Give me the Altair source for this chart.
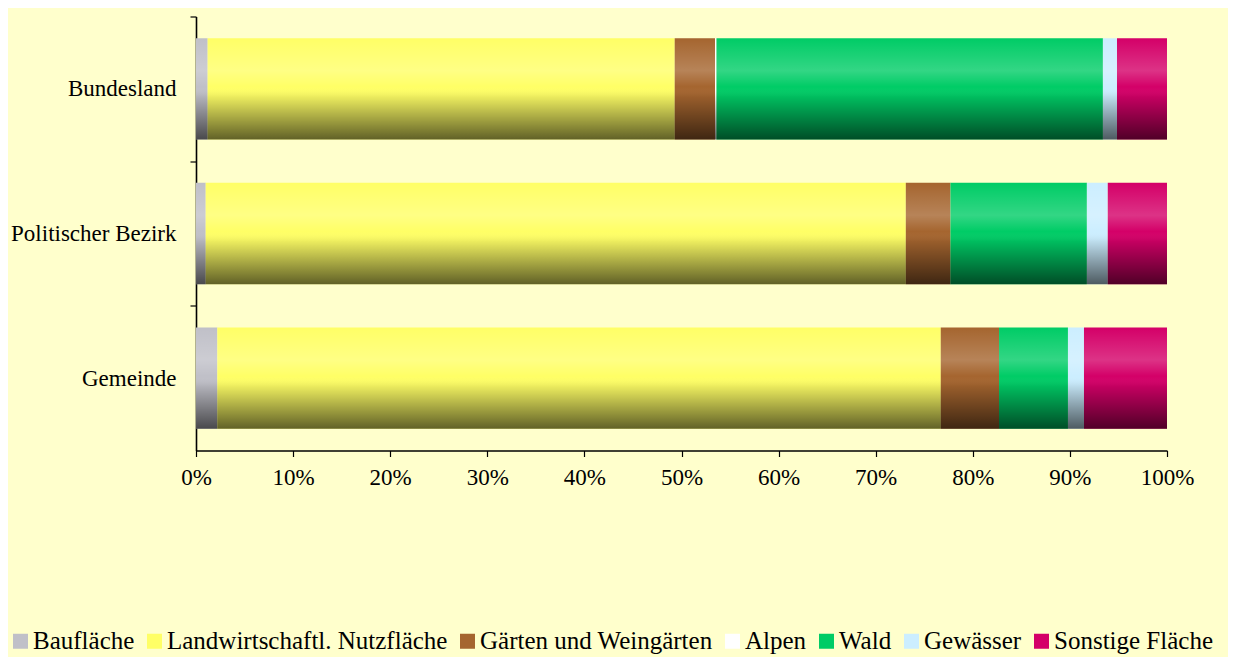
import altair as alt
import pandas as pd

regions = ["Bundesland", "Politischer Bezirk", "Gemeinde"]
categories = ["Baufläche", "Landwirtschaftl. Nutzfläche", "Gärten und Weingärten",
              "Alpen", "Wald", "Gewässer", "Sonstige Fläche"]
colors = ["#C0C0C8", "#FFFF66", "#A5652F", "#FFFFFF", "#00CC66", "#CCEEFF", "#D40068"]

bundesland = [1.2, 48.1, 4.15, 0.15, 39.8, 1.45, 5.15]
bezirk = [1.0, 72.1, 4.6, 0.0, 14.05, 2.15, 6.1]
gemeinde = [2.2, 74.5, 6.0, 0.0, 7.1, 1.65, 8.55]

x_ticks = [0, 0.1, 0.2, 0.3, 0.4, 0.5, 0.6, 0.7, 0.8, 0.9, 1.0]

rows = []
for reg, vals in zip(regions, [bundesland, bezirk, gemeinde]):
    for i, (cat, v) in enumerate(zip(categories, vals)):
        rows.append({"Region": reg, "Kategorie": cat, "Wert": v, "idx": i})
df = pd.DataFrame(rows)

FONT = "Liberation Serif"

base = alt.Chart(df).encode(
    y=alt.Y("Region:N", sort=regions,
            scale=alt.Scale(paddingInner=0.3, paddingOuter=0.15),
            axis=alt.Axis(title=None, labelFont=FONT, labelFontSize=23, labelColor="#000",
                          tickSize=6, tickColor="#000", tickWidth=1.2,
                          tickOffset=-72.3, labelOffset=72.3, labelPadding=14,
                          domainColor="#000", domainWidth=1.6, grid=False)),
    x=alt.X("Wert:Q", stack="normalize",
            scale=alt.Scale(domain=[0, 1], nice=False),
            axis=alt.Axis(title=None, values=x_ticks, format=".0%", labelFont=FONT,
                          labelFontSize=23, labelColor="#000", tickSize=6, tickColor="#000",
                          tickWidth=1.2, labelPadding=10, domainColor="#000",
                          domainWidth=1.6, grid=False, labelFlush=False)),
    order=alt.Order("idx:Q"),
)

bars = base.mark_bar().encode(
    color=alt.Color("Kategorie:N", sort=categories,
                    scale=alt.Scale(domain=categories, range=colors),
                    legend=alt.Legend(title=None, orient="none", legendX=-188, legendY=612,
                                      direction="horizontal", columns=7,
                                      symbolType="square", symbolSize=225,
                                      symbolStrokeWidth=0, labelFont=FONT,
                                      labelFontSize=25, labelColor="#000",
                                      labelOffset=0, columnPadding=7,
                                      labelLimit=400))
)

shade = base.mark_bar(
    color=alt.Gradient(
        gradient="linear", x1=0, x2=0, y1=0, y2=1,
        stops=[
            alt.GradientStop(color="rgba(255,255,255,0)", offset=0),
            alt.GradientStop(color="rgba(255,255,255,0.2)", offset=0.32),
            alt.GradientStop(color="rgba(255,255,255,0)", offset=0.48),
            alt.GradientStop(color="rgba(0,0,0,0.08)", offset=0.58),
            alt.GradientStop(color="rgba(0,0,0,0.62)", offset=1),
        ],
    )
).encode(detail="Kategorie:N")

chart = alt.layer(bars, shade).properties(
    width=971, height=434,
    autosize=alt.AutoSizeParams(type="none"),
    padding={"left": 188, "top": 8.5, "right": 61, "bottom": 206},
    background="#FFFFCC",
).configure_view(strokeWidth=0)

chart.save("out.html", embed_options={"renderer": "svg", "actions": False})
